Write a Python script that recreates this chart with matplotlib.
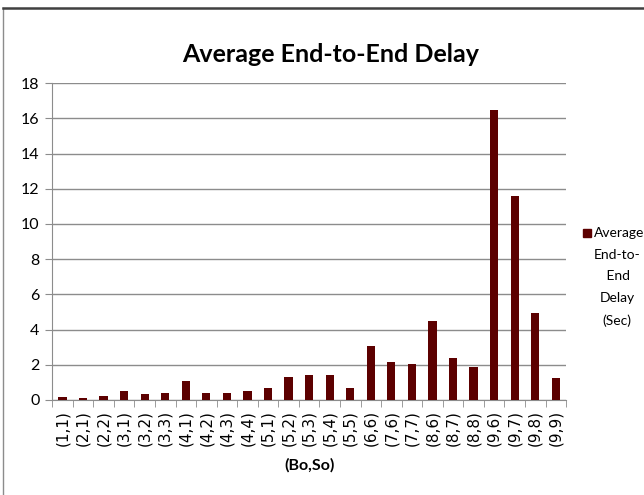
import matplotlib.pyplot as plt
from matplotlib.patches import Rectangle
from matplotlib.lines import Line2D

# Data
bo_so = ['(1,1)', '(2,1)', '(2,2)', '(3,1)', '(3,2)', '(3,3)', '(4,1)', '(4,2)',
         '(4,3)', '(4,4)', '(5,1)', '(5,2)', '(5,3)', '(5,4)', '(5,5)', '(6,6)',
         '(7,6)', '(7,7)', '(8,6)', '(8,7)', '(8,8)', '(9,6)', '(9,7)', '(9,8)',
         '(9,9)']
delay = [0.19, 0.10, 0.25, 0.53, 0.32, 0.41, 1.06, 0.41, 0.41, 0.53, 0.70,
         1.29, 1.42, 1.42, 0.70, 3.07, 2.18, 2.05, 4.47, 2.37, 1.89, 16.47,
         11.60, 4.92, 1.23]
y_ticks = [0, 2, 4, 6, 8, 10, 12, 14, 16, 18]

bar_color = '#5c0000'
narrow = ['Lato', 'DejaVu Sans']

fig = plt.figure(figsize=(6.44, 4.95), dpi=100)
ax = fig.add_axes([0.081, 0.192, 0.798, 0.640])

x = list(range(len(bo_so)))
ax.bar(x, delay, width=0.4, color=bar_color, zorder=3)

ax.set_xlim(-0.5, len(bo_so) - 0.5)
ax.set_ylim(0, 18)
ax.set_yticks(y_ticks)
ax.set_yticklabels([str(t) for t in y_ticks], family=narrow, fontsize=11.5)
ax.yaxis.grid(True, color='#8c8c8c', linewidth=1.0, zorder=0)

# category labels centered, tick marks on the boundaries
ax.set_xticks(x)
ax.set_xticklabels(bo_so, rotation=90, family='DejaVu Sans', fontsize=11)
ax.tick_params(axis='x', which='major', length=0, pad=7)
ax.set_xticks([i - 0.5 for i in range(len(bo_so) + 1)], minor=True)
ax.tick_params(axis='x', which='minor', length=5, color='#8c8c8c', direction='out')
ax.tick_params(axis='y', length=5, color='#8c8c8c', pad=4)

for s in ['top', 'right']:
    ax.spines[s].set_visible(False)
for s in ['left', 'bottom']:
    ax.spines[s].set_color('#8c8c8c')

ax.set_xlabel('(Bo,So)', family=narrow, fontweight='bold', fontsize=11.5, labelpad=9)

fig.text(0.514, 0.889, 'Average End-to-End Delay', ha='center', va='center',
         family=narrow, fontweight='bold', fontsize=18)

# legend drawn by hand to match the wrapped label
fig.patches.append(Rectangle((0.905, 0.521), 0.0125, 0.016, color=bar_color,
                             transform=fig.transFigure, figure=fig))
fig.text(0.962, 0.529, 'Average', ha='center', va='center', family=narrow, fontsize=10)
fig.text(0.958, 0.497, 'End-to-\n End\nDelay\n(Sec)', ha='center', va='top',
         family=narrow, fontsize=10, linespacing=1.95)

# frame around the picture
fig.lines.append(Line2D([0.005, 0.005], [0, 0.984], color='#8c8c8c', linewidth=1.0,
                        transform=fig.transFigure))
fig.lines.append(Line2D([0.005, 1], [0.984, 0.984], color='#404040', linewidth=1.8,
                        transform=fig.transFigure))

fig.savefig('out.png', dpi=100)
